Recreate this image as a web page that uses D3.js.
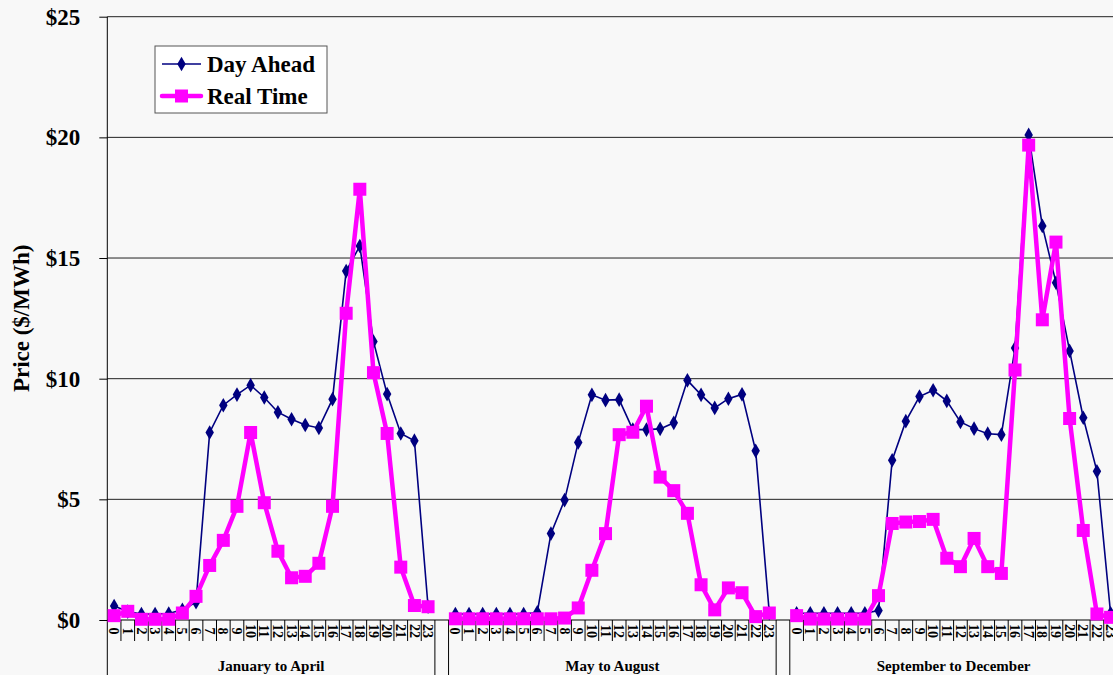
<!DOCTYPE html>
<html>
<head>
<meta charset="utf-8">
<script src="https://cdn.jsdelivr.net/npm/d3@7"></script>
<style>
  html, body { margin: 0; padding: 0; background: #f8f8f8; }
  svg { display: block; }
  text { font-family: "Liberation Serif", "Times New Roman", serif; font-weight: bold; fill: #000; }
</style>
</head>
<body>
<svg id="chart" width="1113" height="675"></svg>
<script>
// Average hourly prices, three seasonal blocks of 24 hours each
const hours = d3.range(24).map(String);
const groups = ["January to April", "May to August", "September to December"];
const yTicks = [0, 5, 10, 15, 20, 25];

const dayAheadJanApr = [0.58, 0.35, 0.25, 0.25, 0.27, 0.42, 0.74, 7.77, 8.90, 9.34, 9.73, 9.22,
                        8.61, 8.32, 8.08, 7.96, 9.15, 14.46, 15.50, 11.54, 9.36, 7.73, 7.43, 0.55];
const dayAheadMayAug = [0.25, 0.25, 0.25, 0.25, 0.25, 0.25, 0.32, 3.58, 4.97, 7.36, 9.33, 9.11,
                        9.13, 7.89, 7.89, 7.92, 8.17, 9.93, 9.33, 8.79, 9.17, 9.35, 7.01, 0.28];
const dayAheadSepDec = [0.28, 0.28, 0.28, 0.28, 0.28, 0.28, 0.39, 6.62, 8.24, 9.26, 9.52, 9.08,
                        8.21, 7.93, 7.72, 7.68, 11.27, 20.10, 16.33, 13.98, 11.15, 8.38, 6.16, 0.28];

const realTimeJanApr = [0.18, 0.36, 0.03, 0.03, 0.03, 0.29, 0.98, 2.26, 3.30, 4.71, 7.77, 4.86,
                        2.85, 1.75, 1.81, 2.35, 4.71, 12.71, 17.85, 10.25, 7.73, 2.19, 0.60, 0.55];
const realTimeMayAug = [0.05, 0.05, 0.05, 0.05, 0.05, 0.05, 0.05, 0.05, 0.08, 0.50, 2.06, 3.58,
                        7.68, 7.78, 8.86, 5.92, 5.36, 4.42, 1.46, 0.42, 1.33, 1.13, 0.14, 0.29];
const realTimeSepDec = [0.18, 0.04, 0.04, 0.04, 0.04, 0.04, 1.01, 4.00, 4.06, 4.08, 4.17, 2.56,
                        2.21, 3.38, 2.21, 1.93, 10.36, 19.68, 12.44, 15.66, 8.35, 3.71, 0.25, 0.11];

const dayAhead = [dayAheadJanApr, dayAheadMayAug, dayAheadSepDec];
const realTime = [realTimeJanApr, realTimeMayAug, realTimeSepDec];

// Category slots: each block of hours followed by one empty slot
const slots = [];
groups.forEach((g, gi) => {
  hours.forEach(h => slots.push(gi + "-" + h));
  if (gi < groups.length - 1) slots.push("gap" + gi);
});

const plot = { left: 107.3, right: 1117.4, top: 16.7, bottom: 620 };
const svg = d3.select("#chart");

const x = d3.scaleBand().domain(slots).range([plot.left, plot.right]).paddingInner(0).paddingOuter(0);
const y = d3.scaleLinear().domain([0, 25]).range([plot.bottom, plot.top]);

// Horizontal gridlines
svg.append("g")
  .selectAll("line")
  .data(yTicks.filter(v => v > 0))
  .join("line")
  .attr("x1", plot.left).attr("x2", plot.right)
  .attr("y1", d => y(d)).attr("y2", d => y(d))
  .attr("stroke", "#222").attr("stroke-width", 1);

// Y axis
const yAxis = d3.axisLeft(y).tickValues(yTicks).tickFormat(d => "$" + d).tickSize(8).tickPadding(19);
const yG = svg.append("g").attr("transform", `translate(${plot.left},0)`).call(yAxis);
yG.select(".domain").attr("stroke", "#000");
yG.selectAll(".tick line").attr("stroke", "#000");
yG.selectAll("text").style("font-size", "23px").attr("fill", "#000")
  .style("font-family", '"Liberation Serif", "Times New Roman", serif').style("font-weight", "bold");
yG.select(".domain").attr("d", `M0,${plot.bottom}V${plot.top}`);

svg.append("text")
  .attr("transform", `translate(29,${(plot.top + plot.bottom) / 2}) rotate(-90)`)
  .attr("text-anchor", "middle")
  .style("font-size", "23px")
  .text("Price ($/MWh)");

// X axis baseline
svg.append("line")
  .attr("x1", plot.left).attr("x2", plot.right)
  .attr("y1", plot.bottom).attr("y2", plot.bottom)
  .attr("stroke", "#000");

// Small ticks between hour slots
const tickG = svg.append("g");
groups.forEach((g, gi) => {
  const keys = hours.map(h => gi + "-" + h);
  keys.forEach((k, i) => {
    if (i === 0) return;
    tickG.append("line")
      .attr("x1", x(k)).attr("x2", x(k))
      .attr("y1", plot.bottom).attr("y2", plot.bottom + 21)
      .attr("stroke", "#000");
  });
  // Block dividers run down to the bottom edge
  const x0 = x(keys[0]);
  const x1 = x(keys[keys.length - 1]) + x.bandwidth();
  [x0, x1].forEach(xv => tickG.append("line")
    .attr("x1", xv).attr("x2", xv)
    .attr("y1", plot.bottom).attr("y2", 675)
    .attr("stroke", "#000"));
  // Hour labels
  keys.forEach((k, i) => {
    tickG.append("text")
      .attr("transform", `translate(${x(k) + x.bandwidth() / 2},${plot.bottom + 11}) rotate(90)`)
      .attr("text-anchor", "middle")
      .attr("dy", "0.35em")
      .style("font-size", "14px")
      .text(hours[i]);
  });
  // Block label
  tickG.append("text")
    .attr("x", (x0 + x1) / 2)
    .attr("y", 671)
    .attr("text-anchor", "middle")
    .style("font-size", "15px")
    .text(g);
});

// Series lines and markers
const line = d3.line()
  .x(d => x(d.key) + x.bandwidth() / 2)
  .y(d => y(d.value));

const diamond = d3.symbol().type(d3.symbolDiamond).size(62);

groups.forEach((g, gi) => {
  const rt = realTime[gi].map((v, i) => ({ key: gi + "-" + hours[i], value: v }));
  const da = dayAhead[gi].map((v, i) => ({ key: gi + "-" + hours[i], value: v }));

  svg.append("path").datum(da)
    .attr("d", line).attr("fill", "none")
    .attr("stroke", "#000080").attr("stroke-width", 1.6);
  svg.append("g").selectAll("path").data(da).join("path")
    .attr("d", diamond)
    .attr("transform", d => `translate(${x(d.key) + x.bandwidth() / 2},${y(d.value)})`)
    .attr("fill", "#000080");

  svg.append("path").datum(rt)
    .attr("d", line).attr("fill", "none")
    .attr("stroke", "#ff00ff").attr("stroke-width", 4.5)
    .attr("stroke-linejoin", "round");
  svg.append("g").selectAll("rect").data(rt).join("rect")
    .attr("x", d => x(d.key) + x.bandwidth() / 2 - 6.5)
    .attr("y", d => y(d.value) - 6.5)
    .attr("width", 13).attr("height", 13)
    .attr("fill", "#ff00ff");
});

// Legend
const lg = svg.append("g").attr("transform", "translate(155,46)");
lg.append("rect").attr("width", 172).attr("height", 67)
  .attr("fill", "#fff").attr("stroke", "#555").attr("stroke-width", 1);
lg.append("line").attr("x1", 7).attr("x2", 46).attr("y1", 18).attr("y2", 18)
  .attr("stroke", "#000080").attr("stroke-width", 1.6);
lg.append("path").attr("d", diamond).attr("transform", "translate(26.5,18)").attr("fill", "#000080");
lg.append("text").attr("x", 52).attr("y", 18).attr("dy", "0.35em").style("font-size", "23px").text("Day Ahead");
lg.append("line").attr("x1", 7).attr("x2", 46).attr("y1", 50).attr("y2", 50)
  .attr("stroke", "#ff00ff").attr("stroke-width", 4.5).attr("stroke-linecap", "round");
lg.append("rect").attr("x", 20).attr("y", 43.5).attr("width", 13).attr("height", 13).attr("fill", "#ff00ff");
lg.append("text").attr("x", 52).attr("y", 50).attr("dy", "0.35em").style("font-size", "23px").text("Real Time");
</script>
</body>
</html>
